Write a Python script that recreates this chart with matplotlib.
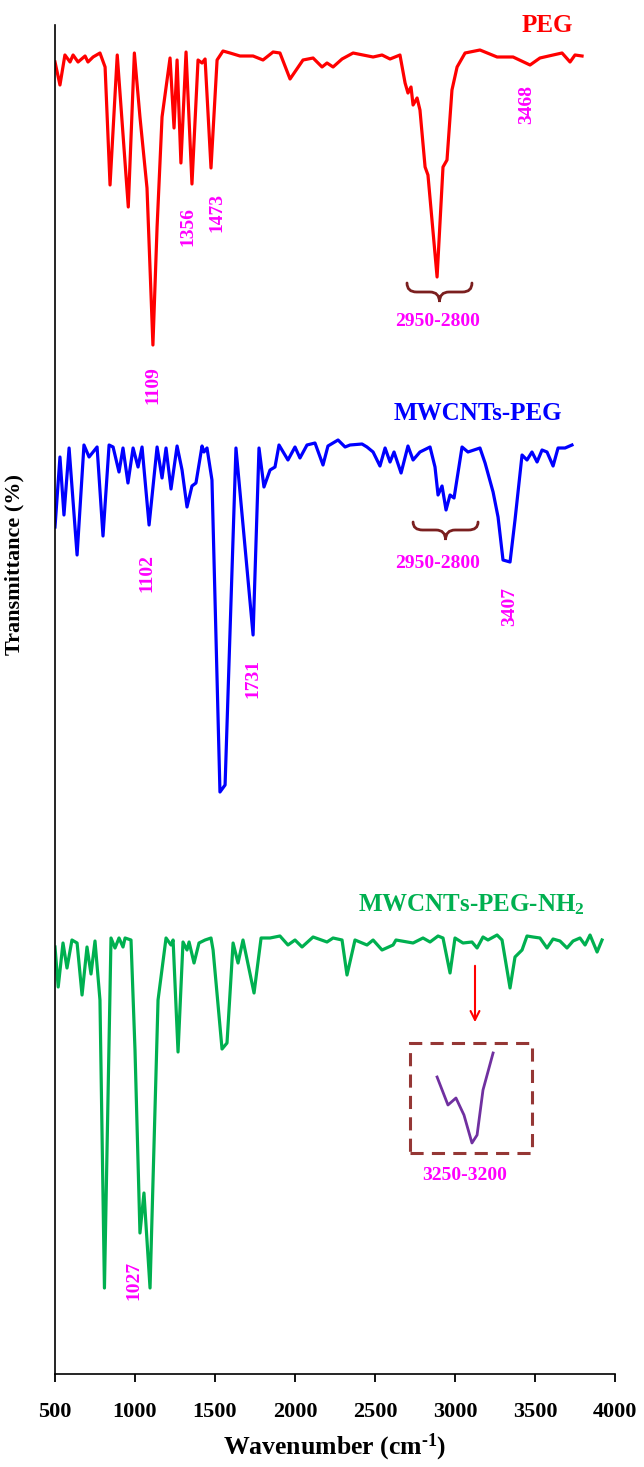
import numpy as np
import matplotlib
matplotlib.use('Agg')
import matplotlib.pyplot as plt
from matplotlib.path import Path
from matplotlib.patches import PathPatch, Rectangle

plt.rcParams['font.family'] = ['Liberation Serif', 'DejaVu Serif']
plt.rcParams['font.weight'] = 'bold'
plt.rcParams['axes.labelweight'] = 'bold'
plt.rcParams['mathtext.fontset'] = 'custom'
plt.rcParams['mathtext.rm'] = 'Liberation Serif:bold'
plt.rcParams['mathtext.it'] = 'Liberation Serif:bold'
plt.rcParams['mathtext.bf'] = 'Liberation Serif:bold'

# spectra (wavenumber cm-1, transmittance a.u.)
peg_wn = [500, 531, 562, 594, 613, 644, 688, 706, 738, 781, 813, 844, 889, 958, 996, 1031, 1075, 1112,
          1138, 1169, 1219, 1244, 1263, 1287, 1319, 1356, 1394, 1419, 1438, 1475, 1513, 1550, 1594,
          1656, 1738, 1800, 1863, 1906, 1969, 2050, 2113, 2169, 2200, 2238, 2294, 2363, 2425, 2488,
          2544, 2594, 2656, 2688, 2706, 2725, 2738, 2763, 2781, 2813, 2831, 2888, 2925, 2950, 2981,
          3013, 3063, 3156, 3263, 3363, 3469, 3531, 3613, 3669, 3719, 3750, 3794]
peg_t = [127.7, 125.4, 128.4, 127.7, 128.4, 127.7, 128.3, 127.7, 128.2, 128.6, 127.2, 115.4, 128.4, 113.2,
         128.6, 122.2, 115.1, 99.4, 111.2, 122.2, 128.1, 121.1, 127.9, 117.6, 128.7, 115.5, 127.9,
         127.6, 128.0, 117.1, 127.9, 128.8, 128.6, 128.3, 128.3, 127.9, 128.7, 128.6, 126.0, 127.9,
         128.1, 127.2, 127.6, 127.2, 128.0, 128.6, 128.4, 128.2, 128.4, 128.0, 128.4, 125.6, 124.6,
         125.2, 123.4, 124.1, 122.9, 117.2, 116.4, 106.2, 117.2, 117.9, 124.9, 127.2, 128.6, 128.9,
         128.2, 128.2, 127.4, 128.1, 128.4, 128.6, 127.7, 128.4, 128.3]

mw_wn = [500, 531, 556, 588, 638, 681, 713, 763, 800, 838, 863, 900, 925, 956, 988, 1019, 1044, 1088,
         1138, 1169, 1194, 1225, 1263, 1294, 1325, 1356, 1381, 1419, 1431, 1450, 1481, 1531, 1563,
         1631, 1738, 1775, 1806, 1844, 1875, 1900, 1956, 2000, 2031, 2075, 2125, 2175, 2206, 2269,
         2313, 2344, 2419, 2450, 2488, 2531, 2563, 2594, 2619, 2663, 2706, 2738, 2781, 2844, 2875,
         2894, 2919, 2944, 2969, 2994, 3044, 3081, 3156, 3188, 3238, 3269, 3300, 3344, 3375, 3419,
         3450, 3481, 3513, 3544, 3575, 3613, 3644, 3688, 3731]
mw_t = [84.7, 91.7, 85.9, 92.6, 81.9, 92.9, 91.7, 92.7, 83.8, 92.9, 92.7, 90.2, 92.6, 89.1, 92.6, 90.7,
        92.7, 84.9, 92.7, 89.6, 92.6, 88.5, 92.8, 90.4, 86.7, 88.8, 89.1, 92.8, 92.2, 92.6, 89.4, 58.2,
        58.9, 92.6, 73.9, 92.6, 88.7, 90.4, 90.7, 92.9, 91.4, 92.7, 91.6, 92.9, 93.1, 90.9, 92.8, 93.4,
        92.7, 92.9, 93.0, 92.7, 92.2, 90.8, 92.6, 91.2, 92.2, 90.1, 92.8, 91.4, 92.2, 92.7, 90.7, 87.9,
        88.8, 86.4, 87.9, 87.6, 92.7, 92.2, 92.6, 91.1, 88.2, 85.7, 81.4, 81.2, 85.4, 91.9, 91.4, 92.2,
        91.2, 92.4, 92.2, 90.8, 92.6, 92.6, 92.9]

nh2_wn = [500, 520, 550, 575, 606, 638, 669, 700, 725, 750, 781, 809, 850, 875, 900, 925, 938, 975,
          1000, 1031, 1056, 1094, 1144, 1194, 1225, 1238, 1269, 1300, 1325, 1338, 1369, 1400, 1438,
          1475, 1488, 1544, 1575, 1613, 1644, 1675, 1744, 1788, 1844, 1906, 1956, 2000, 2044, 2113,
          2200, 2238, 2294, 2325, 2375, 2450, 2488, 2544, 2613, 2631, 2738, 2800, 2844, 2894, 2925,
          2969, 3000, 3050, 3106, 3138, 3175, 3206, 3263, 3294, 3344, 3375, 3419, 3450, 3488, 3531,
          3575, 3613, 3656, 3700, 3738, 3781, 3813, 3844, 3888, 3919]
nh2_t = [92.7, 88.7, 93.1, 90.6, 93.4, 93.1, 87.9, 92.7, 90.0, 93.3, 87.4, 58.6, 93.6, 92.6, 93.6, 92.7,
         93.6, 93.4, 82.4, 64.1, 68.1, 58.6, 87.4, 93.6, 92.9, 93.4, 82.2, 93.2, 92.4, 93.2, 91.1, 93.1,
         93.4, 93.6, 92.4, 82.5, 83.1, 93.1, 91.1, 93.4, 88.1, 93.6, 93.6, 93.8, 92.9, 93.4, 92.7, 93.7,
         93.2, 93.6, 93.4, 89.9, 93.4, 92.9, 93.4, 92.4, 92.9, 93.4, 93.1, 93.6, 93.2, 93.8, 93.6, 90.1,
         93.6, 93.1, 93.2, 92.6, 93.7, 93.4, 93.9, 93.4, 88.6, 91.7, 92.4, 93.8, 93.7, 93.6, 92.6, 93.5,
         93.3, 92.6, 93.3, 93.6, 92.9, 93.9, 92.2, 93.4]

# zoomed 3250-3200 region shown in the inset
inset_wn = [2888, 2956, 3006, 3056, 3106, 3138, 3175, 3238]
inset_t = [29.7, 26.9, 27.6, 25.9, 23.1, 23.9, 28.4, 32.1]

offsets = {'PEG': 3.5, 'MWCNTs-PEG': 0, 'MWCNTs-PEG-NH2': -50}
xticks = [500, 1000, 1500, 2000, 2500, 3000, 3500, 4000]

MAGENTA = '#FF00FF'
BRACE = '#7B1F1F'


def draw_brace(ax, x1, x2, y_top, y_flat, y_tip, r=60):
    xm = (x1 + x2) / 2
    verts = [(x1, y_top), (x1, y_flat), (x1 + r, y_flat), (xm - r, y_flat), (xm, y_flat), (xm, y_tip),
             (xm, y_flat), (xm + r, y_flat), (x2 - r, y_flat), (x2, y_flat), (x2, y_top)]
    codes = [Path.MOVETO, Path.CURVE3, Path.CURVE3, Path.LINETO, Path.CURVE3, Path.CURVE3,
             Path.CURVE3, Path.CURVE3, Path.LINETO, Path.CURVE3, Path.CURVE3]
    ax.add_patch(PathPatch(Path(verts, codes), fill=False, color=BRACE, lw=2.0, capstyle='round'))


def peak_label(ax, x, y, s):
    ax.text(x, y, s, color=MAGENTA, fontsize=14, rotation=90, ha='center', va='center')


fig = plt.figure(figsize=(6.44, 14.67), dpi=100)
ax = fig.add_axes([55 / 644, 93 / 1467, 560 / 644, 1349 / 1467])

ax.plot(peg_wn, np.array(peg_t) + offsets['PEG'], color='#FF0000', lw=2.3, solid_joinstyle='round')
ax.plot(mw_wn, np.array(mw_t) + offsets['MWCNTs-PEG'], color='#0000FF', lw=2.3, solid_joinstyle='round')
ax.plot(nh2_wn, np.array(nh2_t) + offsets['MWCNTs-PEG-NH2'], color='#00B050', lw=2.3,
        solid_joinstyle='round')
ax.plot(inset_wn, inset_t, color='#7030A0', lw=2.0, solid_joinstyle='round')

ax.set_xlim(500, 4000)
ax.set_ylim(0, 134.9)
ax.set_xticks(xticks)
ax.tick_params(axis='x', direction='out', length=6, width=1.3, labelsize=16, pad=14)
ax.set_yticks([])
for side in ['top', 'right']:
    ax.spines[side].set_visible(False)
for side in ['left', 'bottom']:
    ax.spines[side].set_linewidth(1.2)

ax.set_xlabel('Wavenumber (cm$^{\\text{-}1}$)', fontsize=18.5, fontweight='bold', labelpad=7)
ax.set_ylabel('Transmittance (%)', fontsize=16, fontweight='bold')
ax.yaxis.set_label_coords(-0.054, 0.60)

# sample names
ax.text(3575, 134.9, 'PEG', color='#FF0000', fontsize=18, ha='center', va='center', clip_on=False)
ax.text(3144, 96.1, 'MWCNTs-PEG', color='#0000FF', fontsize=18, ha='center', va='center')
ax.text(3100, 46.9, 'MWCNTs-PEG-NH$_2$', color='#00B050', fontsize=18, ha='center', va='center')

# peak positions
peak_label(ax, 1112, 98.9, '1109')
peak_label(ax, 1331, 114.8, '1356')
peak_label(ax, 1513, 116.1, '1473')
peak_label(ax, 3450, 126.9, '3468')
peak_label(ax, 1075, 80.1, '1102')
peak_label(ax, 1738, 69.6, '1731')
peak_label(ax, 3344, 76.8, '3407')
peak_label(ax, 994, 9.4, '1027')

# C-H stretching ranges
draw_brace(ax, 2700, 3106, 109.1, 108.2, 107.2)
ax.text(2888, 105.2, '2950-2800', color=MAGENTA, fontsize=14, ha='center', va='center')
draw_brace(ax, 2738, 3144, 85.2, 84.4, 83.4)
ax.text(2888, 81.1, '2950-2800', color=MAGENTA, fontsize=14, ha='center', va='center')

# inset for the NH2 band
ax.annotate('', xy=(3125, 34.9), xytext=(3125, 41.1),
            arrowprops=dict(arrowstyle='->', color='#FF0000', lw=1.5, mutation_scale=16))
ax.add_patch(Rectangle((2719, 22.1), 762, 11.0, fill=False, edgecolor='#953735', lw=2.2,
                       linestyle=(0, (4.3, 2.7))))
ax.text(3063, 19.9, '3250-3200', color=MAGENTA, fontsize=14, ha='center', va='center')

fig.savefig('out.png', dpi=100)
